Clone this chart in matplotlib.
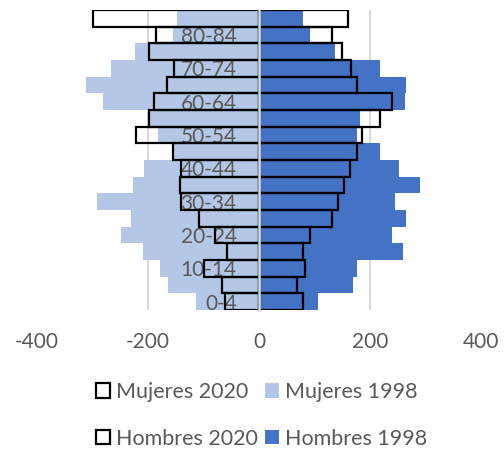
import matplotlib
matplotlib.use("Agg")
import matplotlib.pyplot as plt
from matplotlib.patches import Patch

# ── Data (miles de personas, mujeres en negativo) ─────────────────────────────
grupos = ["0-4", "5-9", "10-14", "15-19", "20-24", "25-29", "30-34", "35-39",
          "40-44", "45-49", "50-54", "55-59", "60-64", "65-69", "70-74",
          "75-79", "80-84", "85+"]

mujeres_1998 = [-114, -163, -178, -208, -249, -230, -291, -226, -206,
                -155, -181, -199, -281, -312, -267, -223, -155, -148]
mujeres_2020 = [-62, -66, -99, -57, -80, -107, -140, -142, -140,
                -155, -222, -198, -189, -165, -152, -197, -185, -299]
hombres_1998 = [107, 169, 176, 259, 240, 265, 245, 290, 252,
                217, 176, 181, 262, 264, 217, 137, 91, 79]
hombres_2020 = [80, 68, 83, 80, 92, 131, 142, 153, 163,
                176, 185, 218, 239, 177, 165, 150, 131, 160]

C_LIGHT = "#B4C7E7"
C_DARK = "#4472C4"
C_TEXT = "#595959"
C_GRID = "#D9D9D9"
FS = 15

plt.rcParams["font.family"] = ["Lato", "DejaVu Sans"]

fig = plt.figure(figsize=(5.04, 4.53), dpi=100)
ax = fig.add_axes([0.0726, 0.3157, 0.8825, 0.6621])

y = list(range(len(grupos)))
ax.barh(y, mujeres_1998, height=1.0, color=C_LIGHT, zorder=1)
ax.barh(y, hombres_1998, height=1.0, color=C_DARK, zorder=1)
ax.barh(y, mujeres_2020, height=1.0, facecolor="none", edgecolor="black",
        linewidth=1.6, zorder=2)
ax.barh(y, hombres_2020, height=1.0, facecolor="none", edgecolor="black",
        linewidth=1.6, zorder=2)

ax.set_xlim(-400, 400)
ax.set_ylim(-0.5, len(grupos) - 0.5)

# gridlines
for gx in (-200, 200):
    ax.axvline(gx, color=C_GRID, lw=1.5, zorder=0)

# axes styling
for s in ("top", "right", "bottom"):
    ax.spines[s].set_visible(False)
ax.spines["left"].set_position(("data", 0))
ax.spines["left"].set_color(C_GRID)
ax.spines["left"].set_linewidth(1.8)
ax.spines["left"].set_zorder(3)

ax.set_xticks([-400, -200, 0, 200, 400])
ax.set_xticklabels(["-400", "-200", "0", "200", "400"])
ax.set_yticks(y[::2])
ax.set_yticklabels(grupos[::2])
ax.tick_params(axis="x", length=0, pad=16, labelsize=FS, labelcolor=C_TEXT)
ax.tick_params(axis="y", length=0, pad=16, labelsize=FS, labelcolor=C_TEXT)
for lbl in ax.get_yticklabels():
    lbl.set_zorder(4)

# ── Legend ────────────────────────────────────────────────────────────────────
handles = [
    Patch(facecolor="white", edgecolor="black", linewidth=1.6, label="Mujeres 2020"),
    Patch(facecolor="white", edgecolor="black", linewidth=1.6, label="Hombres 2020"),
    Patch(facecolor=C_LIGHT, label="Mujeres 1998"),
    Patch(facecolor=C_DARK, label="Hombres 1998"),
]
leg = fig.legend(handles=handles, ncol=2, loc="center",
                 bbox_to_anchor=(0.519, 0.083), frameon=False, fontsize=15.5,
                 handlelength=0.65, handleheight=0.65, handletextpad=0.28,
                 columnspacing=0.33, labelspacing=1.25)
for t in leg.get_texts():
    t.set_color(C_TEXT)

fig.savefig("out.png", dpi=100)
